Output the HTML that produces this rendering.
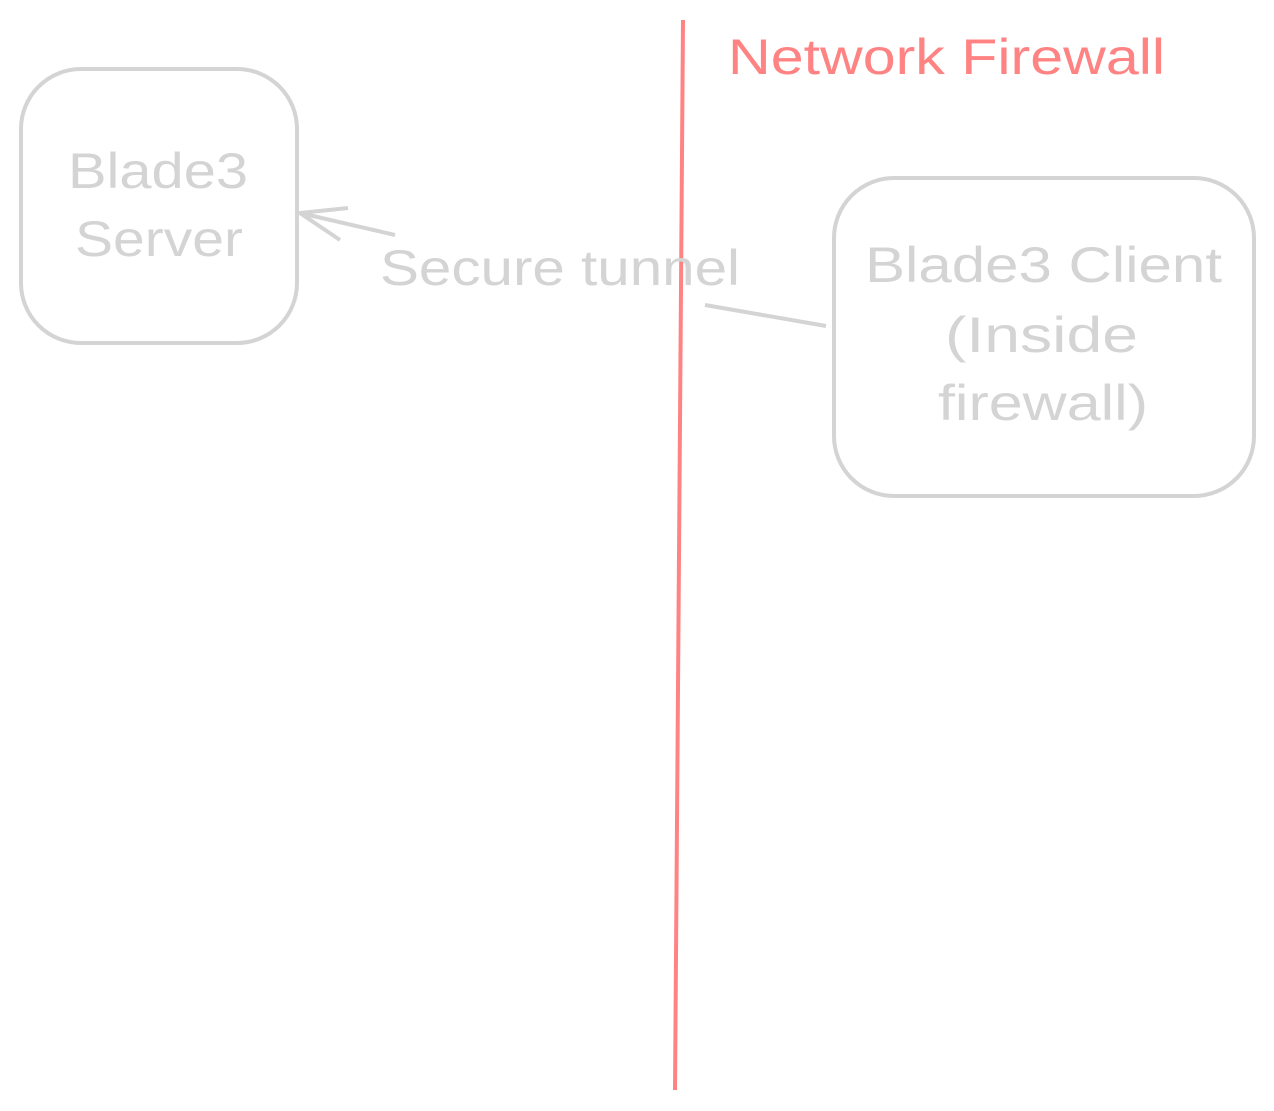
<!DOCTYPE html>
<html><head><style>
html,body{margin:0;padding:0;background:#fff;}
body{width:1274px;height:1111px;position:relative;overflow:hidden;}
svg{position:absolute;left:0;top:0;}
text{font-family:"Liberation Sans",sans-serif;}
</style></head><body>
<svg width="1274" height="1111" viewBox="0 0 1274 1111">
<line x1="683" y1="20" x2="675" y2="1090" stroke="#ff8383" stroke-width="4"/>
<text x="728" y="74" fill="#ff8383" font-size="50" textLength="437" lengthAdjust="spacingAndGlyphs">Network Firewall</text>
<rect x="21" y="69" width="276" height="274" rx="60" fill="none" stroke="#d4d4d4" stroke-width="4"/>
<text x="68" y="188" fill="#d4d4d4" font-size="50" textLength="180" lengthAdjust="spacingAndGlyphs">Blade3</text>
<text x="75" y="256" fill="#d4d4d4" font-size="50" textLength="168" lengthAdjust="spacingAndGlyphs">Server</text>
<rect x="834" y="178" width="420" height="318" rx="60" fill="none" stroke="#d4d4d4" stroke-width="4"/>
<text x="865" y="282" fill="#d4d4d4" font-size="50" textLength="357" lengthAdjust="spacingAndGlyphs">Blade3 Client</text>
<text x="945" y="352" fill="#d4d4d4" font-size="50" textLength="193" lengthAdjust="spacingAndGlyphs">(Inside</text>
<text x="938" y="420" fill="#d4d4d4" font-size="50" textLength="210" lengthAdjust="spacingAndGlyphs">firewall)</text>
<text x="380" y="285" fill="#d4d4d4" font-size="50" textLength="360" lengthAdjust="spacingAndGlyphs">Secure tunnel</text>
<line x1="705" y1="305" x2="826" y2="326" stroke="#d4d4d4" stroke-width="4"/>
<line x1="300" y1="213" x2="395" y2="235" stroke="#d4d4d4" stroke-width="4"/>
<polyline points="348,208 300,213 340,240" fill="none" stroke="#d4d4d4" stroke-width="4"/>
</svg>
</body></html>
